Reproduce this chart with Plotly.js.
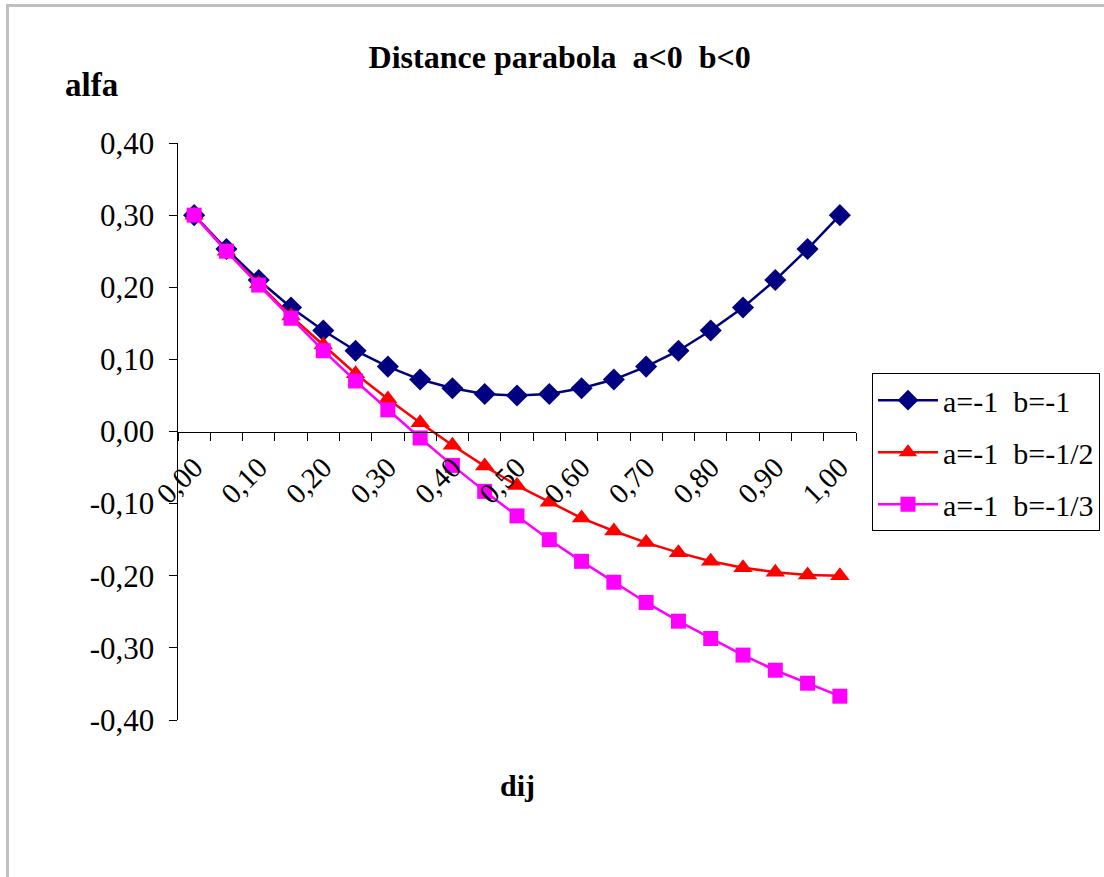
<!DOCTYPE html>
<html>
<head>
<meta charset="utf-8">
<script src="https://cdn.plot.ly/plotly-3.0.1.min.js"></script>
<style>
  html, body { margin: 0; padding: 0; background: #fff; overflow: hidden; }
  #chart { width: 1104px; height: 877px; position: absolute; left: 0; top: 0; }
  #frame { position: absolute; left: 6px; top: 4px; width: 1200px; height: 1000px;
           border-top: 3px solid #c0c0c0; border-left: 3px solid #c0c0c0; pointer-events: none; }
</style>
</head>
<body>
<div id="chart"></div>
<div id="frame"></div>
<script>
const dij = [0.00,0.05,0.10,0.15,0.20,0.25,0.30,0.35,0.40,0.45,0.50,0.55,0.60,0.65,0.70,0.75,0.80,0.85,0.90,0.95,1.00];
const seriesNames = ["a=-1  b=-1", "a=-1  b=-1/2", "a=-1  b=-1/3"];
const alfa1 = [0.300,0.253,0.210,0.172,0.140,0.112,0.090,0.072,0.060,0.052,0.050,0.052,0.060,0.072,0.090,0.112,0.140,0.172,0.210,0.253,0.300];
const alfa2 = [0.300,0.250,0.205,0.160,0.120,0.080,0.045,0.012,-0.019,-0.048,-0.075,-0.098,-0.120,-0.138,-0.154,-0.168,-0.180,-0.189,-0.195,-0.199,-0.200];
const alfa3 = [0.300,0.250,0.203,0.157,0.112,0.070,0.030,-0.009,-0.047,-0.083,-0.117,-0.150,-0.180,-0.209,-0.237,-0.263,-0.287,-0.310,-0.331,-0.349,-0.367];
const xTickVals = [0.0,0.1,0.2,0.3,0.4,0.5,0.6,0.7,0.8,0.9,1.0];
const xTickText = ["0,00","0,10","0,20","0,30","0,40","0,50","0,60","0,70","0,80","0,90","1,00"];
const yTickVals = [-0.4,-0.3,-0.2,-0.1,0,0.1,0.2,0.3,0.4];
const yTickText = ["-0,40","-0,30","-0,20","-0,10","0,00","0,10","0,20","0,30","0,40"];

const serif = "Liberation Serif";
const nb = s => s.replace(/ /g, "\u00A0");

const traces = [
  {x: dij, y: alfa1, name: nb(seriesNames[0]), mode: "lines+markers", legendgroup: "g1",
   line: {color: "#000080", width: 2.5}, marker: {symbol: "diamond", size: 17, color: "#000080"}},
  {x: dij, y: alfa2, name: nb(seriesNames[1]), mode: "lines+markers", legendgroup: "g2",
   line: {color: "#FF0000", width: 2.5}, marker: {symbol: "triangle-up", size: 17, color: "#FF0000"}},
  {x: dij, y: alfa3, name: nb(seriesNames[2]), mode: "lines+markers", legendgroup: "g3",
   line: {color: "#FF00FF", width: 2.5}, marker: {symbol: "square", size: 15, color: "#FF00FF"}}
];

const layout = {
  width: 1104, height: 877,
  margin: {l: 178, r: 248, t: 143, b: 157, autoexpand: false},
  paper_bgcolor: "#fff", plot_bgcolor: "#fff",
  font: {family: serif, color: "#000", size: 28},
  title: {text: nb("<b>Distance parabola  a<0  b<0</b>"), font: {family: serif, size: 32, color: "#000"},
          xref: "paper", x: 0.563, xanchor: "center", yref: "container", y: 0.935, yanchor: "middle"},
  showlegend: true,
  legend: {x: 1.0236, y: 0.601, xanchor: "left", yanchor: "top",
           bordercolor: "#000", borderwidth: 1, bgcolor: "#fff",
           font: {family: serif, size: 30, color: "#000"},
           itemwidth: 60,
           traceorder: "grouped", tracegroupgap: 10},
  xaxis: {
    range: [-0.025, 1.025], anchor: "free", position: 0.5,
    showline: true, linecolor: "#000", linewidth: 1.5,
    showgrid: false, zeroline: false,
    tickmode: "array", tickvals: xTickVals, ticktext: xTickText,
    ticks: "", tickangle: -45, ticklabelstandoff: 6,
    tickfont: {family: serif, size: 29, color: "#000"},
    minor: {tickmode: "linear", tick0: -0.025, dtick: 0.05, ticks: "outside", ticklen: 8, tickwidth: 1, tickcolor: "#000"}
  },
  yaxis: {
    range: [-0.4, 0.4],
    showline: true, linecolor: "#000", linewidth: 1.5,
    showgrid: false, zeroline: false,
    tickmode: "array", tickvals: yTickVals, ticktext: yTickText,
    ticks: "outside", ticklen: 8, tickwidth: 1, tickcolor: "#000", ticklabelstandoff: 8,
    tickfont: {family: serif, size: 31, color: "#000"}
  },
  annotations: [
    {text: "<b>alfa</b>", xref: "paper", yref: "paper", x: -0.127, y: 1.1005,
     xanchor: "center", yanchor: "middle", showarrow: false, font: {family: serif, size: 33, color: "#000"}},
    {text: "<b>dij</b>", xref: "paper", yref: "paper", x: 0.5, y: -0.1127,
     xanchor: "center", yanchor: "middle", showarrow: false, font: {family: serif, size: 30, color: "#000"}}
  ]
};

Plotly.newPlot("chart", traces, layout, {displayModeBar: false, staticPlot: true});
</script>
</body>
</html>
